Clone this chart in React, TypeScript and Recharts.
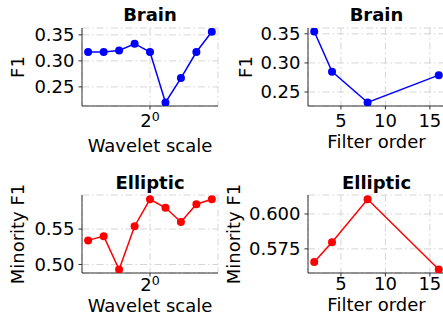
import { LineChart, Line, XAxis, YAxis, CartesianGrid, Label } from 'recharts'

const waveletScale = [0.574, 0.66, 0.758, 0.871, 1.0, 1.149, 1.32, 1.516, 1.741]
const brainWaveletF1 = [0.317, 0.317, 0.32, 0.333, 0.317, 0.22, 0.267, 0.317, 0.356]
const ellipticWaveletF1 = [0.534, 0.54, 0.493, 0.554, 0.592, 0.58, 0.56, 0.585, 0.592]

const filterOrder = [2, 4, 8, 16]
const brainFilterF1 = [0.354, 0.285, 0.232, 0.279]
const ellipticFilterF1 = [0.5655, 0.5798, 0.6105, 0.5602]

const FONT = 'DejaVu Sans, Verdana, sans-serif'
const SPINE = '#333'

const PowTick = ({ x, y }: any) => (
  <text x={x} y={y} textAnchor="middle" fontFamily={FONT} fontSize={18} fill="#000">
    <tspan dy="0.71em">2</tspan>
    <tspan dy={-6} fontSize={12.6}>0</tspan>
  </text>
)

interface PanelProps {
  left: number
  top: number
  width: number
  height: number
  yAxisWidth: number
  xAxisHeight: number
  marginTop: number
  marginRight: number
  data: { x: number; y: number }[]
  color: string
  title: string
  titleTop: number
  xLabel: string
  yLabel: string
  xLabelOffset: number
  yLabelOffset: number
  xTickMargin: number
  xDomain: [number, number]
  yDomain: [number, number]
  xTicks: number[]
  yTicks: number[]
  logX?: boolean
  yDigits: number
}

function Panel(p: PanelProps) {
  const tickStyle = { fontFamily: FONT, fontSize: 18, fill: '#000' }
  const plotW = p.width - p.yAxisWidth - p.marginRight
  return (
    <div style={{ position: 'absolute', left: p.left, top: p.top, width: p.width, height: p.height }}>
      <div
        style={{
          position: 'absolute',
          left: p.yAxisWidth,
          top: p.titleTop,
          width: plotW,
          textAlign: 'center',
          fontFamily: FONT,
          fontSize: 18,
          lineHeight: '18px',
          fontWeight: 'bold',
          color: '#000',
          whiteSpace: 'nowrap',
        }}
      >
        {p.title}
      </div>
      <LineChart
        width={p.width}
        height={p.height}
        data={p.data}
        margin={{ top: p.marginTop, right: p.marginRight, bottom: 0, left: 0 }}
      >
        <CartesianGrid stroke="#d6d6d6" strokeDasharray="7 3 1.5 3" />
        <XAxis
          dataKey="x"
          type="number"
          scale={p.logX ? 'log' : 'linear'}
          domain={p.xDomain}
          ticks={p.xTicks}
          allowDataOverflow
          height={p.xAxisHeight}
          tick={p.logX ? <PowTick /> : tickStyle}
          tickSize={3.5}
          tickMargin={p.xTickMargin}
          stroke={SPINE}
          axisLine={{ stroke: SPINE }}
          tickLine={{ stroke: SPINE }}
        >
          <Label
            value={p.xLabel}
            position="insideBottom"
            offset={p.xLabelOffset}
            style={{ fontFamily: FONT, fontSize: 18, fill: '#000' }}
          />
        </XAxis>
        <XAxis
          xAxisId="top"
          orientation="top"
          type="number"
          domain={[0, 1]}
          height={0}
          tick={false}
          tickLine={false}
          axisLine={{ stroke: SPINE }}
        />
        <YAxis
          type="number"
          domain={p.yDomain}
          ticks={p.yTicks}
          allowDataOverflow
          width={p.yAxisWidth}
          tick={tickStyle}
          tickFormatter={(v: number) => v.toFixed(p.yDigits)}
          tickSize={3.5}
          tickMargin={4}
          axisLine={{ stroke: SPINE }}
          tickLine={{ stroke: SPINE }}
        >
          <Label
            value={p.yLabel}
            angle={-90}
            position="insideLeft"
            offset={p.yLabelOffset}
            style={{ fontFamily: FONT, fontSize: 18, fill: '#000', textAnchor: 'middle' }}
          />
        </YAxis>
        <YAxis
          yAxisId="right"
          orientation="right"
          type="number"
          domain={[0, 1]}
          width={0}
          tick={false}
          tickLine={false}
          axisLine={{ stroke: SPINE }}
        />
        <Line
          dataKey="y"
          stroke={p.color}
          strokeWidth={1.5}
          dot={{ r: 4, fill: p.color, stroke: p.color, strokeWidth: 0 }}
          activeDot={false}
          isAnimationActive={false}
        />
      </LineChart>
    </div>
  )
}

const zip = (xs: number[], ys: number[]) => xs.map((x, i) => ({ x, y: ys[i] }))

export default function App() {
  return (
    <div style={{ position: 'fixed', left: 0, top: 0, width: 443, height: 320, overflow: 'hidden', background: '#fff' }}>
      <Panel
        left={0} top={0} width={225} height={160}
        yAxisWidth={82} xAxisHeight={54} marginTop={28} marginRight={7}
        data={zip(waveletScale, brainWaveletF1)} color="#0000ff"
        title="Brain" titleTop={6} xLabel="Wavelet scale" yLabel="F1"
        xLabelOffset={8} yLabelOffset={18} xTickMargin={5}
        xDomain={[0.5434, 1.8404]} yDomain={[0.2133, 0.3632]}
        xTicks={[1]} yTicks={[0.25, 0.3, 0.35]} logX yDigits={2}
      />
      <Panel
        left={215} top={0} width={235} height={160}
        yAxisWidth={93} xAxisHeight={54} marginTop={28} marginRight={5}
        data={zip(filterOrder, brainFilterF1)} color="#0000ff"
        title="Brain" titleTop={6} xLabel="Filter order" yLabel="F1"
        xLabelOffset={12} yLabelOffset={31} xTickMargin={5}
        xDomain={[1.3, 16.7]} yDomain={[0.226, 0.36]}
        xTicks={[5, 10, 15]} yTicks={[0.25, 0.3, 0.35]} yDigits={2}
      />
      <Panel
        left={0} top={160} width={225} height={160}
        yAxisWidth={82} xAxisHeight={47} marginTop={35} marginRight={7}
        data={zip(waveletScale, ellipticWaveletF1)} color="#ff0000"
        title="Elliptic" titleTop={14} xLabel="Wavelet scale" yLabel="Minority F1"
        xLabelOffset={8} yLabelOffset={18} xTickMargin={2}
        xDomain={[0.5434, 1.8404]} yDomain={[0.488, 0.598]}
        xTicks={[1]} yTicks={[0.5, 0.55]} logX yDigits={2}
      />
      <Panel
        left={215} top={160} width={235} height={160}
        yAxisWidth={93} xAxisHeight={47} marginTop={35} marginRight={5}
        data={zip(filterOrder, ellipticFilterF1)} color="#ff0000"
        title="Elliptic" titleTop={14} xLabel="Filter order" yLabel="Minority F1"
        xLabelOffset={9} yLabelOffset={19} xTickMargin={1}
        xDomain={[1.3, 16.7]} yDomain={[0.5577, 0.6136]}
        xTicks={[5, 10, 15]} yTicks={[0.575, 0.6]} yDigits={3}
      />
    </div>
  )
}
